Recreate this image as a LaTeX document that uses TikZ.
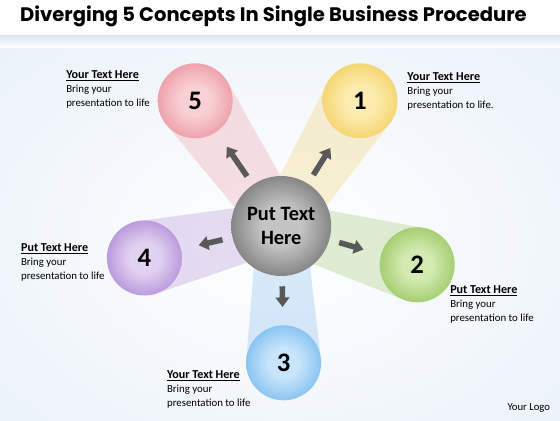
\documentclass[tikz,border=0pt]{standalone}
\usepackage{fontspec}
\setmainfont{Carlito}
\newfontfamily\titlefont{Poppins}
\usetikzlibrary{arrows.meta, positioning, calc, backgrounds}

\definecolor{bgblue}{HTML}{E6EFF8}
\definecolor{bandblue}{HTML}{DCE9F6}
\definecolor{pinkin}{HTML}{F9D0D4}
\definecolor{pinkout}{HTML}{E26F7C}
\definecolor{yellowin}{HTML}{FCECB0}
\definecolor{yellowout}{HTML}{EEBE30}
\definecolor{greenin}{HTML}{D3EAB0}
\definecolor{greenout}{HTML}{72B02E}
\definecolor{bluein}{HTML}{C8E5FB}
\definecolor{blueout}{HTML}{469FE8}
\definecolor{purplein}{HTML}{E2D2F2}
\definecolor{purpleout}{HTML}{905CC4}
\definecolor{grayin}{HTML}{C4C4C4}
\definecolor{grayout}{HTML}{404040}
\colorlet{ballin}{white}
\colorlet{ballout}{gray}
\pgfdeclareradialshading[ballin,ballout]{glassball}{\pgfpoint{0bp}{0bp}}{color(0bp)=(ballin); color(10bp)=(ballin); color(26bp)=(ballout!50!ballin); color(33bp)=(ballout); color(35.4bp)=(ballout!85!black); color(50bp)=(ballout!85!black)}

\begin{document}
\begin{tikzpicture}[
  ball/.style 2 args={circle, minimum size=1.875cm, inner sep=0pt,
    /utils/exec={\colorlet{ballin}{#1}\colorlet{ballout}{#2}}, shading=glassball,
    font=\fontsize{19}{19}\selectfont\bfseries},
  beam/.style={fill=#1, opacity=0.3},
  flow/.style={-{Triangle[length=2.4mm,width=3.4mm]}, line width=1.4mm, draw=black!65,
    shorten <=2.5mm, shorten >=4.5mm},
  note/.style={anchor=north west, inner sep=0pt, align=left, font=\fontsize{7.7}{10}\selectfont}
]
\useasboundingbox (0,0) rectangle (14,10.5);

% hub and the five balls
\node [ball={grayin}{grayout}, minimum size=2.5cm, font=\fontsize{14.5}{17.7}\selectfont\bfseries, align=center] (hub) at (7.03,4.85) {Put Text\\Here};
\node [ball={yellowin}{yellowout}] (s1) at (9.0,7.98) {1};
\node [ball={greenin}{greenout}] (s2) at (10.43,3.88) {2};
\node [ball={bluein}{blueout}] (s3) at (7.09,1.43) {3};
\node [ball={purplein}{purpleout}] (s4) at (3.61,4.05) {4};
\node [ball={pinkin}{pinkout}] (s5) at (4.88,7.98) {5};

\begin{scope}[on background layer]
\clip (0,0) rectangle (14,10.5);
\shade [inner color=white, outer color=bgblue] (-5,-4) rectangle (19,13);
\fill [white] (0,9.6) rectangle (14,10.5);
\shade [top color=bandblue, bottom color=white] (0,9.3) rectangle (14,9.6);
% light beams
\foreach \s/\c in {s1/yellowout, s2/greenout, s3/blueout, s4/purpleout, s5/pinkout}
  \fill [beam=\c!70] ($(\s)!0.94cm!90:(hub)$) -- ($(\s)!0.94cm!-90:(hub)$) -- ($(hub)!0.6cm!90:(\s)$) -- ($(hub)!0.6cm!-90:(\s)$) -- cycle;
\end{scope}

% arrows
\foreach \s in {s1,s2,s3,s4,s5}
  \draw [flow] (hub) -- (\s);

% texts
\node [anchor=west] (title) at (0.38,10.08) {\titlefont\bfseries\fontsize{13.9}{16}\selectfont Diverging 5 Concepts In Single Business Procedure};
\node [note] (t5) at (1.65,8.75) {\textbf{\fontsize{8.6}{10}\selectfont\underline{Your Text Here}}\\Bring your\\presentation to life};
\node [note] (t1) at (10.18,8.7) {\textbf{\fontsize{8.6}{10}\selectfont\underline{Your Text Here}}\\Bring your\\presentation to life.};
\node [note] (t4) at (0.52,4.42) {\textbf{\fontsize{8.6}{10}\selectfont\underline{Put Text Here}}\\Bring your\\presentation to life};
\node [note] (t2) at (11.25,3.37) {\textbf{\fontsize{8.6}{10}\selectfont\underline{Put Text Here}}\\Bring your\\presentation to life};
\node [note] (t3) at (4.17,1.25) {\textbf{\fontsize{8.6}{10}\selectfont\underline{Your Text Here}}\\Bring your\\presentation to life};
\node [font=\fontsize{7.6}{9}\selectfont] (logo) at (13.22,0.3) {Your Logo};
\end{tikzpicture}
\end{document}
